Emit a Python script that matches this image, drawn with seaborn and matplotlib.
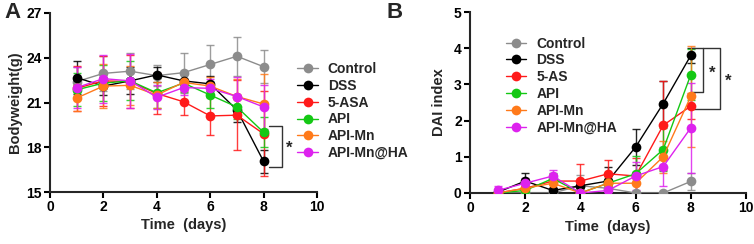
import numpy as np
import pandas as pd
import matplotlib
matplotlib.use("Agg")
import matplotlib.pyplot as plt
import seaborn as sns

days = [1, 2, 3, 4, 5, 6, 7, 8]
groups_a = ["Control", "DSS", "5-ASA", "API", "API-Mn", "API-Mn@HA"]
groups_b = ["Control", "DSS", "5-AS", "API", "API-Mn", "API-Mn@HA"]
colors = ["#8c8c8c", "#000000", "#ff1a1a", "#14c814", "#ff7a1a", "#dd22ee"]

bw_control = [22.4, 22.95, 23.1, 22.8, 23.0, 23.55, 24.1, 23.4]
bw_dss = [22.67, 22.1, 22.45, 22.85, 22.45, 22.25, 20.5, 17.05]
bw_5asa = [21.95, 22.45, 22.4, 21.6, 21.05, 20.1, 20.15, 18.9]
bw_api = [21.85, 22.3, 22.45, 21.65, 22.3, 21.5, 20.7, 19.0]
bw_apimn = [21.3, 22.1, 22.15, 21.5, 22.35, 22.1, 21.4, 20.9]
bw_apimnha = [22.0, 22.6, 22.45, 21.35, 22.0, 21.95, 21.4, 20.7]

bw_err_control = [1.0, 1.2, 1.2, 0.7, 1.35, 1.3, 1.3, 1.1]
bw_err_dss = [1.1, 0.6, 0.9, 0.5, 0.5, 0.5, 0.8, 0.75]
bw_err_5asa = [1.5, 1.7, 1.8, 1.4, 0.9, 1.25, 2.35, 2.85]
bw_err_api = [1.1, 1.2, 1.3, 1.0, 0.6, 0.9, 0.8, 1.0]
bw_err_apimn = [0.9, 1.5, 1.3, 0.9, 0.6, 0.6, 1.2, 2.0]
bw_err_apimnha = [1.4, 1.6, 1.8, 0.8, 0.5, 0.6, 1.3, 1.5]

dai_control = [0.0, 0.0, 0.0, 0.2, 0.13, 0.0, 0.0, 0.32]
dai_dss = [0.02, 0.33, 0.07, 0.2, 0.33, 1.27, 2.47, 3.8]
dai_5as = [0.0, 0.13, 0.33, 0.33, 0.53, 0.47, 1.87, 2.4]
dai_api = [0.0, 0.07, 0.4, 0.0, 0.27, 0.53, 1.2, 3.27]
dai_apimn = [0.0, 0.13, 0.27, 0.0, 0.27, 0.27, 1.0, 2.67]
dai_apimnha = [0.07, 0.27, 0.47, 0.0, 0.07, 0.47, 0.73, 1.8]

dai_err_control = [0.0, 0.0, 0.0, 0.3, 0.2, 0.0, 0.0, 0.23]
dai_err_dss = [0.0, 0.23, 0.0, 0.0, 0.4, 0.5, 0.63, 0.2]
dai_err_5as = [0.0, 0.2, 0.2, 0.47, 0.38, 0.5, 1.23, 0.35]
dai_err_api = [0.0, 0.0, 0.15, 0.0, 0.2, 0.5, 0.6, 0.7]
dai_err_apimn = [0.0, 0.2, 0.15, 0.0, 0.2, 0.3, 0.45, 1.4]
dai_err_apimnha = [0.13, 0.15, 0.17, 0.0, 0.1, 0.4, 0.55, 1.25]

bw_vals = [bw_control, bw_dss, bw_5asa, bw_api, bw_apimn, bw_apimnha]
bw_errs = [bw_err_control, bw_err_dss, bw_err_5asa, bw_err_api, bw_err_apimn, bw_err_apimnha]
dai_vals = [dai_control, dai_dss, dai_5as, dai_api, dai_apimn, dai_apimnha]
dai_errs = [dai_err_control, dai_err_dss, dai_err_5as, dai_err_api, dai_err_apimn, dai_err_apimnha]

sns.set_theme(style="ticks")
plt.rcParams["font.family"] = ["Liberation Sans", "DejaVu Sans"]
plt.rcParams["font.weight"] = "bold"

fig = plt.figure(figsize=(7.54, 2.44), dpi=100)
W, H = 754, 244
axA = fig.add_axes([50 / W, 1 - 192 / H, 267 / W, 179 / H])
axB = fig.add_axes([470 / W, 1 - 193 / H, 276 / W, 181 / H])


def draw(ax, names, vals, errs):
    rows = []
    for n, v in zip(names, vals):
        for d, y in zip(days, v):
            rows.append({"day": d, "val": y, "group": n})
    df = pd.DataFrame(rows)
    for n, v, e, c in zip(names, vals, errs, colors):
        ax.errorbar(days, v, yerr=e, fmt="none", ecolor=c, elinewidth=1.0,
                    capsize=3, capthick=1.0, zorder=2, alpha=0.85)
    sns.lineplot(data=df, x="day", y="val", hue="group", hue_order=names,
                 palette=colors, marker="o", markersize=7, markeredgewidth=0,
                 linewidth=1.0, ax=ax, legend=True, zorder=3)


draw(axA, groups_a, bw_vals, bw_errs)
draw(axB, groups_b, dai_vals, dai_errs)

for ax in (axA, axB):
    sns.despine(ax=ax)
    ax.set_xlim(0, 10)
    ax.set_xticks([0, 2, 4, 6, 8, 10])
    ax.spines["left"].set_linewidth(1.5)
    ax.spines["bottom"].set_linewidth(1.5)
    ax.tick_params(axis="both", width=1.5, length=4, labelsize=10, pad=2, colors="black")
    for lbl in ax.get_xticklabels() + ax.get_yticklabels():
        lbl.set_fontweight("bold")
    ax.set_xlabel("Time  (days)", fontsize=10.5, fontweight="bold", labelpad=3)

axA.set_ylim(15, 27)
axA.set_yticks([15, 18, 21, 24, 27])
axA.set_ylabel("Bodyweight(g)", fontsize=10.5, fontweight="bold", labelpad=3)
axB.set_ylim(0, 5)
axB.set_yticks([0, 1, 2, 3, 4, 5])
axB.set_ylabel("DAI index", fontsize=10.5, fontweight="bold", labelpad=6)

legA = axA.legend(loc="upper left", bbox_to_anchor=(0.905, 0.757), frameon=False,
                  fontsize=10, handlelength=1.5, labelspacing=0.2,
                  handletextpad=0.7, borderaxespad=0)
legB = axB.legend(loc="upper left", bbox_to_anchor=(0.109, 0.895), frameon=False,
                  fontsize=10, handlelength=1.5, labelspacing=0.2,
                  handletextpad=0.7, borderaxespad=0)
for leg in (legA, legB):
    for t in leg.get_texts():
        t.set_fontweight("bold")
    leg.set_clip_on(False)

# significance brackets
axA.plot([8.2, 8.7, 8.7, 8.2], [19.45, 19.45, 16.7, 16.7], color="#333333", lw=1.0, clip_on=False)
axA.text(8.95, 17.95, "*", ha="center", va="center", fontsize=12, fontweight="bold")
axB.plot([8.05, 8.45, 8.45, 8.05], [4.0, 4.0, 2.8, 2.8], color="#333333", lw=1.0, clip_on=False)
axB.plot([8.45, 9.05, 9.05, 8.05], [4.0, 4.0, 2.32, 2.32], color="#333333", lw=1.0, clip_on=False)
axB.text(8.78, 3.3, "*", ha="center", va="center", fontsize=12, fontweight="bold")
axB.text(9.35, 3.1, "*", ha="center", va="center", fontsize=12, fontweight="bold")

fig.text(4 / W, 1 - 13 / H, "A", fontsize=16, fontweight="bold", va="center")
fig.text(386 / W, 1 - 13 / H, "B", fontsize=16, fontweight="bold", va="center")

fig.savefig("out.png", dpi=100)
